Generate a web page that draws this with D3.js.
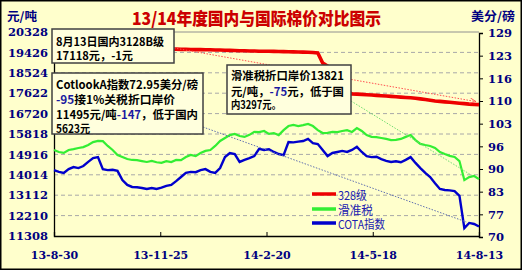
<!DOCTYPE html>
<html><head><meta charset="utf-8">
<script src="https://cdn.jsdelivr.net/npm/d3@7"></script>
<style>body{margin:0;background:#fff}svg{display:block}</style>
</head><body><svg id="c" width="522" height="270"></svg>
<script>
// ---------- data ----------
const startDate = "2013-08-30";
const stepDays = 4;
const red328 = [19360,19370,19380,19390,19400,19410,19420,19430,19440,19450,
  19460,19470,19480,19490,19500,19510,19520,19530,19540,19550,
  19555,19560,19565,19570,19570,19570,19560,19560,19555,19550,
  19550,19540,19540,19535,19530,19520,19515,19510,19500,19500,
  19490,19490,19480,19480,19475,19470,19465,19460,19455,19450,
  19445,19440,19430,19420,19400,18960,18820,18500,18200,17900,
  17700,17590,17580,17570,17555,17540,17525,17510,17495,17480,
  17465,17450,17435,17420,17400,17370,17340,17310,17280,17260,
  17240,17220,17200,17180,17160,17140,17125,17118];
const greenSlide = [15110,15020,14980,15110,15150,15200,15240,15330,15460,15510,
  15500,15290,15110,14890,14800,14710,14670,14660,14620,14580,
  14630,14570,14540,14620,14580,14670,14660,14800,14890,14840,
  14980,15070,15110,15290,15510,15640,15770,15820,15730,15690,
  15780,15910,15900,15950,15820,15860,15770,15990,16170,16220,
  16170,16210,16260,16170,15990,15860,15870,15910,15900,15950,
  15990,15910,16080,15950,15770,15690,15680,15640,15600,15550,
  15560,15600,15690,15770,15550,15380,15330,15290,15200,15020,
  14930,14850,14800,14620,13780,13910,13960,13821];
const blueCota = [89.4,88.9,88.6,89.7,90.3,90.0,90.6,91.8,92.9,93.2,
  89.7,89.4,89.5,89.2,86.5,85.1,84.5,84.4,84.2,83.9,
  84.2,83.9,84.3,84.8,85.1,86.2,87.4,88.6,88.9,88.8,
  89.4,89.7,88.9,88.6,90.0,93.2,94.4,94.1,91.8,92.4,
  92.9,93.5,95.6,95.3,95.5,94.7,94.1,93.8,97.6,97.5,
  97.7,97.9,98.5,97.3,97.0,95.3,93.5,94.4,94.7,95.0,
  94.7,95.3,96.2,94.7,93.5,93.2,93.3,92.6,92.1,91.8,
  92.0,91.7,92.4,93.2,91.5,90.0,88.6,87.4,85.6,83.9,
  83.6,83.5,83.3,81.9,72.5,74.0,73.7,72.95];
const leftTicks = [20328,19426,18524,17622,16720,15818,14916,14014,13112,12210,11308];
const rightTickLabels = ["129","123","116","110","103","96","90","83","77","70"];
const xTickDates = ["2013-08-30","2013-11-25","2014-02-20","2014-05-18","2014-08-13"];
const xTickLabels = ["13-8-30","13-11-25","14-2-20","14-5-18","14-8-13"];
const seriesNames = ["328级","滑准税","COTA指数"];
const title = "13/14年度国内与国际棉价对比图示";
const leftUnit = "元/吨", rightUnit = "美分/磅";
const note1 = [[["8月13日国内3128B级",0]],[["17118元，-1元",0]]];
const note2 = [[["CotlookA指数72.95美分/磅",0]],[["-95",1],["接1%关税折口岸价",0]],
  [["11495元/吨",0],["-147",1],["，低于国内",0]],[["5623元",0]]];
const note3 = [[["滑准税折口岸价13821",0]],[["元/吨，",0],["-75",1],["元，低于国",0]],[["内3297元。",0]]];

// ---------- layout ----------
const W = 522, H = 270;
const L = 54, R = 479, T = 32, B = 236;
const svg = d3.select("#c");
const parse = d3.timeParse("%Y-%m-%d");
const d0 = parse(startDate);
const dates = red328.map((_, i) => d3.timeDay.offset(d0, i * stepDays));
const x = d3.scaleTime().domain([parse(xTickDates[0]), parse(xTickDates[4])]).range([L, R]);
const yL = d3.scaleLinear().domain([11308, 20328]).range([B, T]);
const yR = d3.scaleLinear().domain([69.9, 129.4]).range([B + 1, T + 1]);
const numFont = "'DejaVu Serif', serif";
const cjk = "'Noto Sans CJK SC', sans-serif";
const navy = "#000080";

svg.append("rect").attr("x", 0.75).attr("y", 0.75).attr("width", W - 1.5).attr("height", H - 1.5)
  .attr("fill", "#FFFFCC").attr("stroke", "#000").attr("stroke-width", 1.5);

// gridlines
svg.append("g").selectAll("line").data(leftTicks.slice(1, -1)).join("line")
  .attr("x1", L).attr("x2", R).attr("y1", d => yL(d)).attr("y2", d => yL(d))
  .attr("stroke", "#a8a8a8").attr("stroke-dasharray", "4,3");
svg.append("line").attr("x1", L).attr("x2", R).attr("y1", T).attr("y2", T).attr("stroke", "#909090");

// axes
const gl = svg.append("g").attr("transform", `translate(${L},0)`)
  .call(d3.axisLeft(yL).tickValues(leftTicks).tickSize(0).tickPadding(6).tickFormat(d3.format("d")));
const gr = svg.append("g").attr("transform", `translate(${R},0)`)
  .call(d3.axisRight(yR).tickValues(d3.range(10).map(i => 129.4 - i * 59.5 / 9)).tickSize(4).tickPadding(5)
    .tickFormat((d, i) => rightTickLabels[i]));
const gb = svg.append("g").attr("transform", `translate(0,${B})`)
  .call(d3.axisBottom(x).tickValues(xTickDates.map(parse)).tickSize(-4).tickPadding(15)
    .tickFormat((d, i) => xTickLabels[i]));
[gl, gr, gb].forEach(g => {
  g.select(".domain").attr("stroke", "#000").attr("stroke-width", 1.3);
  g.selectAll(".tick line").attr("stroke", "#000");
  g.selectAll("text").attr("font-family", numFont).attr("font-weight", "bold")
    .attr("font-size", 11.5).attr("fill", navy);
});
gb.selectAll(".tick").filter((d, i) => i === 0 || i === 4).select("line").remove();
gb.selectAll("text").attr("font-size", 11);

// series
const lineL = vals => d3.line().x((d, i) => x(dates[i])).y(d => yL(d))(vals);
const lineR = vals => d3.line().x((d, i) => x(dates[i])).y(d => yR(d))(vals);
svg.append("path").attr("d", lineL(greenSlide)).attr("fill", "none").attr("stroke", "#33EE33").attr("stroke-width", 2.2);
svg.append("path").attr("d", lineR(blueCota)).attr("fill", "none").attr("stroke", "#0000CC").attr("stroke-width", 2.4);
svg.append("path").attr("d", lineL(red328)).attr("fill", "none").attr("stroke", "#EE0000").attr("stroke-width", 3.6);

// pointer lines from notes to series ends
const last = dates.length - 1;
svg.append("defs").append("marker").attr("id", "ah").attr("viewBox", "0 0 8 8").attr("refX", 7).attr("refY", 4)
  .attr("markerWidth", 7).attr("markerHeight", 7).attr("orient", "auto")
  .append("path").attr("d", "M0,1L7,4L0,7").attr("fill", "none").attr("stroke", "#ff5050");
svg.append("line").attr("x1", 174).attr("y1", 48).attr("x2", x(dates[last]) - 3).attr("y2", yL(red328[last]) - 3)
  .attr("stroke", "#ff5050").attr("stroke-dasharray", "1.5,1.5").attr("marker-end", "url(#ah)");
svg.append("line").attr("x1", 351).attr("y1", 101).attr("x2", x(dates[last]) - 6).attr("y2", yL(greenSlide[last]) - 3)
  .attr("stroke", "#70dd70").attr("stroke-dasharray", "1.5,1.5");
svg.append("line").attr("x1", 203).attr("y1", 127).attr("x2", x(dates[85]) - 3).attr("y2", yR(blueCota[85]) - 1)
  .attr("stroke", "#6070b0").attr("stroke-dasharray", "1.5,1.5");

// notes
function note(lines, bx, by, bw, bh, centers, widths) {
  const g = svg.append("g");
  g.append("rect").attr("x", bx).attr("y", by).attr("width", bw).attr("height", bh)
    .attr("fill", "#FFFFDD").attr("stroke", "#404040").attr("stroke-width", 1.5);
  lines.forEach((segs, i) => {
    const t = g.append("text").attr("x", bx + 4).attr("y", centers[i]).attr("dominant-baseline", "central")
      .attr("font-family", cjk).attr("font-weight", "bold").attr("font-size", 11.5)
      .attr("textLength", widths[i]).attr("lengthAdjust", "spacingAndGlyphs");
    segs.forEach(([s, c]) => t.append("tspan").text(s).attr("fill", c ? "#1a1aa0" : "#000"));
  });
}
note(note1, 52, 29, 122, 34, [41, 54.5], [108, 77]);
note(note2, 52, 73, 151, 61, [84, 99, 113.5, 128], [142, 119, 142, 34]);
note(note3, 227, 65, 124, 49, [75, 90.5, 104], [113, 113, 50]);

// legend
const legColors = ["#EE0000", "#33EE33", "#0000CC"];
const legY = [194, 209, 223];
const legW = [29, 35, 47];
seriesNames.forEach((n, i) => {
  svg.append("line").attr("x1", 312).attr("x2", 336).attr("y1", legY[i]).attr("y2", legY[i])
    .attr("stroke", legColors[i]).attr("stroke-width", 3.5);
  svg.append("text").attr("x", 338).attr("y", legY[i]).attr("dominant-baseline", "central")
    .attr("font-family", cjk).attr("font-size", 12).attr("fill", "#2020b0")
    .attr("textLength", legW[i]).attr("lengthAdjust", "spacingAndGlyphs").text(n);
});

// titles
svg.append("text").attr("x", 132).attr("y", 17).attr("dominant-baseline", "central")
  .attr("font-family", cjk).attr("font-weight", "900").attr("font-size", 17).attr("fill", "#CC0000")
  .attr("textLength", 249).attr("lengthAdjust", "spacingAndGlyphs").text(title);
svg.append("text").attr("x", 7).attr("y", 15).attr("dominant-baseline", "central")
  .attr("font-family", cjk).attr("font-weight", "bold").attr("font-size", 12).attr("fill", navy)
  .attr("textLength", 30).attr("lengthAdjust", "spacingAndGlyphs").text(leftUnit);
svg.append("text").attr("x", 471).attr("y", 15).attr("dominant-baseline", "central")
  .attr("font-family", cjk).attr("font-weight", "bold").attr("font-size", 12).attr("fill", navy)
  .attr("textLength", 44).attr("lengthAdjust", "spacingAndGlyphs").text(rightUnit);
</script></body></html>
